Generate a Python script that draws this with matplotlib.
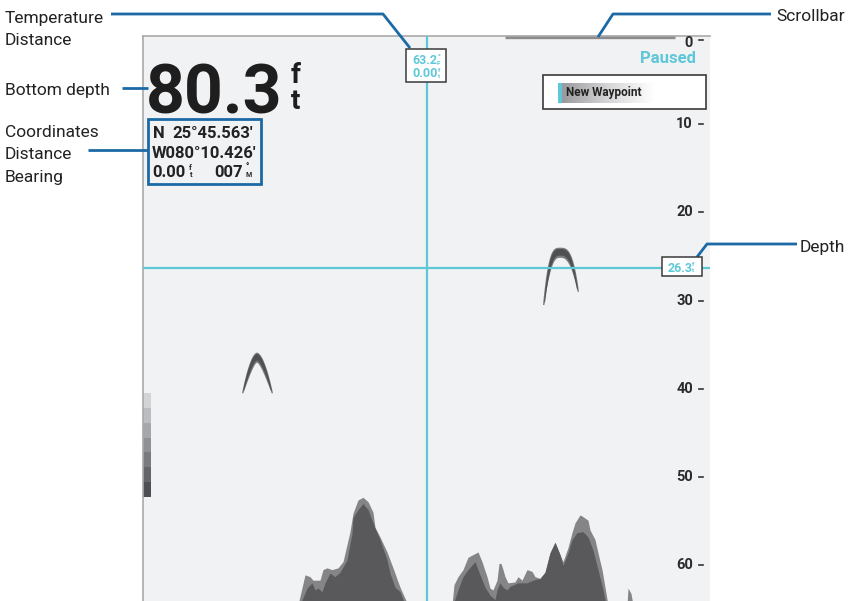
import numpy as np
import matplotlib
matplotlib.use('Agg')
import matplotlib.pyplot as plt
from matplotlib.patches import Rectangle, Polygon
from matplotlib.colors import LinearSegmentedColormap

plt.rcParams['font.family'] = ['Roboto', 'DejaVu Sans']

# ---- values ----
depth_ticks = [0, 10, 20, 30, 40, 50, 60]
bottom_depth = '80.3'
latitude = "25°45.563'"
longitude = "W080°10.426'"
wp_distance = '0.00'
wp_bearing = '007'
cursor_temp = '63.2'
cursor_dist = '0.00'
cursor_depth = 26.3
cursor_ping = 284          # horizontal cursor position (screen columns)

# fish arches: column of apex, apex depth, depth at end of each leg
fish_ping = [114, 417]
fish_apex = [35.9, 24.0]
fish_left_end = [40.5, 30.5]
fish_right_end = [40.5, 29.0]

# bottom return, weak echo (outer) and strong echo (inner); 64.5 = below screen
outer_ping = [155, 162, 167, 170, 177, 180, 184, 189, 195, 200, 207, 210, 215, 220, 225,
              230, 232, 237, 244, 250, 257, 265,
              309, 311, 315, 320, 325, 330, 335, 339, 344, 347, 350, 354, 356, 358, 360,
              362, 365, 372, 375, 379, 384, 389, 392, 397, 402, 407, 412, 417, 420, 425,
              429, 432, 437, 440, 445, 447, 452, 455, 459, 462, 465,
              484, 485, 488, 490]
outer_depth = [64.5, 61.1, 61.3, 61.7, 61.7, 60.5, 60.3, 60.5, 60.3, 59.6, 56.2, 54.1, 52.6,
               52.3, 52.8, 54.0, 55.7, 56.8, 58.5, 60.3, 62.5, 64.5,
               64.5, 62.2, 61.3, 60.5, 59.1, 58.8, 58.5, 59.6, 61.3, 62.6, 62.8, 61.7, 59.8,
               59.8, 60.5, 61.3, 62.0, 61.9, 61.3, 61.7, 60.5, 60.7, 61.3, 61.5, 60.8, 58.6,
               57.4, 58.8, 59.6, 58.0, 56.3, 55.2, 54.3, 54.5, 54.9, 56.0, 57.1, 58.6, 60.5,
               62.5, 64.5,
               64.5, 62.6, 63.2, 64.5]
inner_ping = [157, 164, 169, 172, 175, 179, 182, 187, 192, 197, 204, 209, 210, 215, 220, 225,
              229, 232, 237, 244, 247, 252, 257, 262,
              310, 315, 320, 325, 332, 337, 342, 347, 352, 354, 357, 360, 364, 367, 375, 384,
              390, 397, 402, 407, 412, 417, 420, 425, 429, 434, 440, 445, 450, 455, 460, 463]
inner_depth = [64.5, 62.6, 62.0, 62.8, 62.6, 63.0, 62.0, 60.9, 61.3, 60.8, 59.4, 56.4, 54.6,
               53.7, 53.0, 53.7, 54.9, 55.8, 57.1, 59.4, 60.9, 62.5, 63.0, 64.5,
               64.5, 62.8, 61.3, 60.5, 59.6, 61.1, 62.5, 63.4, 63.9, 62.8, 62.0, 62.5, 62.8,
               62.4, 62.0, 62.0, 61.7, 61.5, 60.8, 58.6, 57.4, 58.8, 60.0, 58.6, 57.1, 56.3,
               56.2, 56.8, 58.3, 60.5, 62.8, 64.5]

# gain / colour scale steps (light to dark)
gain_colors = ['#d3d4d6', '#bcbdc0', '#a6a7aa', '#909194', '#7a7b7e', '#646568', '#4e4f52']

# ---- styling ----
CYAN = '#5ec8d8'
BLUE = '#1b6aa5'
INK = '#222222'
PANEL = '#f1f2f4'
PX_PER_FT = 8.82

fig = plt.figure(figsize=(8.59, 6.01), dpi=100)

# sonar panel: x in screen columns, y in feet
ax = fig.add_axes([143 / 859, 0, 567 / 859, 565 / 601])
ax.set_xlim(0, 567)
ax.set_ylim(565 / PX_PER_FT, 0)
ax.set_facecolor(PANEL)
for side in ['right', 'bottom']:
    ax.spines[side].set_visible(False)
for side in ['top', 'left']:
    ax.spines[side].set_color('#a9a9a9')
    ax.spines[side].set_linewidth(1.2)
ax.set_xticks([])
ax.set_yticks([])

# bottom returns
ax.fill_between(outer_ping, outer_depth, 70, color='#858587', lw=0)
ax.fill_between(inner_ping, inner_depth, 70, color='#59595b', lw=0)


def arch(cx, apex, dl, dr, hw_l, hw_r, th, tw, p):
    s = np.linspace(-1, 1, 161)
    hw = np.where(s < 0, hw_l, hw_r)
    drop = np.where(s < 0, dl - apex, dr - apex)
    a = np.abs(s)
    xo = cx + s * hw
    do = apex + drop * a ** p
    w = tw * (1 - 0.8 * a)
    xi = cx + s * np.maximum(hw - w, 0)
    di = apex + th + (drop - th) * a ** p
    return np.vstack([np.column_stack([xo, do]), np.column_stack([xi, di])[::-1]])


# fish arches
for cx, apex, dl, dr in zip(fish_ping, fish_apex, fish_left_end, fish_right_end):
    big = dl - apex > 5.5
    hl, hr = (17, 19) if big else (15, 16)
    p = 3.2 if big else 1.8
    ax.add_patch(Polygon(arch(cx, apex, dl, dr, hl, hr, 1.15, 7.0, p), closed=True,
                         fc='#7c7c7e', ec='none'))
    ax.add_patch(Polygon(arch(cx, apex + 0.15, dl - 0.3, dr - 0.3, hl - 1.2, hr - 1.2, 0.75, 4.0, p),
                         closed=True, fc='#505052', ec='none'))

# gain scale on the left edge
step = 1.68
for i, c in enumerate(gain_colors):
    ax.add_patch(Rectangle((0, 40.5 + i * step), 8, step, fc=c, ec='none'))

# cursor cross-hair
ax.axvline(cursor_ping, color=CYAN, lw=1.6, zorder=4)
ax.axhline(cursor_depth, color=CYAN, lw=1.6, zorder=4)

# scrollbar
ax.plot([362, 532], [0.12, 0.12], color='#8c8c8e', lw=2.4, solid_capstyle='butt', clip_on=False)

# depth scale
for d in depth_ticks:
    yl = d if d > 0 else 0.74
    yt = d if d > 0 else 0.45
    ax.text(550, yl, str(d), ha='right', va='center', fontsize=10.5, fontweight='bold', color='#2b2b2b')
    ax.plot([556, 560], [yt, yt], color='#333333', lw=1.2)

# ---- overlay in screen pixels ----
fo = fig.add_axes([0, 0, 1, 1], zorder=5)
fo.set_xlim(0, 859)
fo.set_ylim(601, 0)
fo.axis('off')
fo.patch.set_alpha(0)

# bottom depth readout
fo.text(146, 113, bottom_depth, fontsize=49, fontweight='bold', color='#1e1e1e', va='baseline')
fo.text(291, 83, 'f', fontsize=20, fontweight='bold', color='#1e1e1e', va='baseline')
fo.text(291, 109, 't', fontsize=20, fontweight='bold', color='#1e1e1e', va='baseline')

# position box
fo.add_patch(Rectangle((148, 119), 113, 65, fc='none', ec=BLUE, lw=2))
kw = dict(fontsize=12, fontweight='bold', color=INK, va='baseline')
fo.text(153, 138, 'N', **kw)
fo.text(172, 138, latitude, **kw)
fo.text(152, 158, longitude, **kw)
fo.text(152, 177, wp_distance, **kw)
fo.text(189, 170, 'f', fontsize=5.5, fontweight='bold', color=INK, va='baseline')
fo.text(190, 177, 't', fontsize=5.5, fontweight='bold', color=INK, va='baseline')
fo.text(214, 177, wp_bearing, **kw)
fo.text(246, 170, '°', fontsize=6.5, fontweight='bold', color=INK, va='baseline')
fo.text(246, 177, 'M', fontsize=5, fontweight='bold', color=INK, va='baseline')

# paused / waypoint
fo.text(696, 63, 'Paused', fontsize=12, fontweight='bold', color=CYAN, ha='right', va='baseline')
fo.add_patch(Rectangle((543, 75), 163, 34, fc='white', ec='#3a3a3a', lw=1.2))
grad_cm = LinearSegmentedColormap.from_list('wp', ['#9a9a9c', '#d6d6d8', '#ffffff', '#ffffff'])
fo.imshow(np.linspace(0, 1, 256)[None, :], extent=[562, 700, 103, 83], cmap=grad_cm,
          aspect='auto', zorder=6)
fo.add_patch(Rectangle((558, 83), 4, 20, fc=CYAN, ec='none', zorder=7))
fo.text(566, 96, 'New Waypoint', fontsize=8.5, fontweight='bold', color=INK, va='baseline', zorder=8)

# cursor temperature / distance box
fo.add_patch(Rectangle((406, 49), 40, 33, fc='white', ec='#3a3a3a', lw=1.1, zorder=6))
ckw = dict(fontweight='bold', color=CYAN, va='baseline', zorder=7)
fo.text(412, 64, cursor_temp, fontsize=9, **ckw)
fo.text(437, 59, '°', fontsize=5.5, **ckw)
fo.text(437, 65, 'F', fontsize=4.5, **ckw)
fo.text(412, 77, cursor_dist, fontsize=9, **ckw)
fo.text(438, 72, 'f', fontsize=4.5, **ckw)
fo.text(438, 78, 't', fontsize=4.5, **ckw)

# cursor depth box
fo.add_patch(Rectangle((662, 257), 40, 19, fc='white', ec='#3a3a3a', lw=1.1, zorder=6))
fo.text(668, 272, f'{cursor_depth:.1f}', fontsize=9, **ckw)
fo.text(692, 266, 'f', fontsize=4.5, **ckw)
fo.text(692, 272, 't', fontsize=4.5, **ckw)

fo.set_xlim(0, 859)
fo.set_ylim(601, 0)

# ---- callouts ----
lkw = dict(fontsize=12.5, color=INK, va='baseline')
fo.text(5, 23, 'Temperature', **lkw)
fo.text(5, 45, 'Distance', **lkw)
fo.text(5, 95, 'Bottom depth', **lkw)
fo.text(5, 137, 'Coordinates', **lkw)
fo.text(5, 159, 'Distance', **lkw)
fo.text(5, 182, 'Bearing', **lkw)
fo.text(776, 21, 'Scrollbar', **lkw)
fo.text(800, 252, 'Depth', **lkw)

line_kw = dict(color=BLUE, lw=2, solid_capstyle='butt')
fo.plot([111, 383, 410], [14, 14, 48], **line_kw)
fo.plot([122, 148], [88, 88], **line_kw)
fo.plot([88, 148], [150, 150], **line_kw)
fo.plot([598, 613, 771], [37, 14, 14], **line_kw)
fo.plot([697, 707, 797], [257, 244, 244], **line_kw)

fig.savefig('out.png', dpi=100, facecolor='white')
